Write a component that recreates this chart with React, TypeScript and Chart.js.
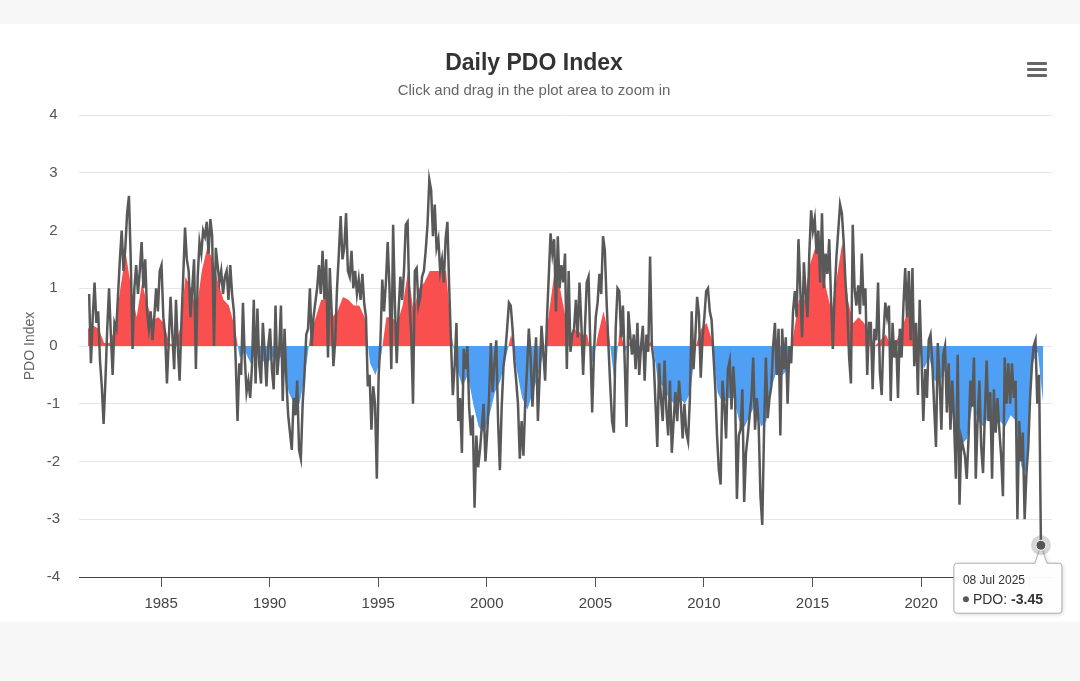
import React, { useEffect, useRef } from "react";
import { Chart, registerables } from "chart.js";

Chart.register(...registerables);

// ---------------- DATA ----------------
const LINE_START_YEAR = 1981;
const LINE_START_MONTH = 8; // 0-based, September

const LINE_1981_1989 = [
  0.9, -0.3, 0.5, 1.1,
  0.4, 0.6, -0.25, -0.7, -1.35, -0.6, 0.3, 1.0, 0.2, -0.5, 0.4, 0.3,
  0.9, 1.5, 2.0, 1.3, 1.7, 2.3, 2.6, 1.5, -0.05, 1.0, 1.4, 0.9,
  1.3, 1.8, 1.0, 1.5, 0.6, 0.3, 0.6, 0.1, 0.5, 1.0, 0.6, 1.3,
  1.4, 0.5, 0.2, -0.65, 0.1, 0.85, 0.2, -0.4, 0.8, 0.0, -0.6, 0.4,
  1.2, 2.05, 1.5, 1.3, 0.5, 1.0, 1.5, -0.4, 1.2, 1.8, 1.6, 2.0,
  1.9, 2.15, 1.6, 2.2, 1.9, 0.0, 1.7, 1.4, 1.1, 1.3, 0.9, 1.2,
  1.3, 0.8, 1.4, 0.9, 0.6, -0.25, -1.3, -0.3, -0.5, 0.75, -0.2, -0.8,
  -0.6, -0.9, -0.35, 0.8, -0.65, 0.65, -0.3, -0.65, 0.4, -0.1, -0.7, 0.0,
];
const LINE_1990_1999 = [
  0.3, -0.4, -0.75, 0.7, -0.5, -0.1, 0.7, -0.95, 0.3, -0.6, -1.2, -1.5,
  -1.8, -0.9, -1.2, -0.6, -1.8, -1.95, -1.0, -0.5, 0.2, 0.3, 1.0, 0.0,
  0.5, 0.75, 1.0, 1.4, 0.9, 1.65, 0.8, 1.5, -0.2, 1.35, 0.6, -0.35,
  0.1, 1.0, 1.6, 2.25, 1.5, 1.7, 2.3, 1.3, 1.2, 1.65, 1.0, 1.3,
  0.9, 1.15, 0.8, 1.25, 0.74, 0.5, -0.7, -0.5, -1.45, -0.7, -1.0, -2.3,
  -0.5, 0.1, 1.15, 0.6, 1.1, 1.8, 1.0, -0.4, 2.1, 0.7, -0.3, 0.6,
  1.2, 0.8, 1.3, 2.1, 2.15, 0.75, 0.2, -1.0, 1.3, 1.35, 0.7, 0.85,
  1.2, 1.3, 1.65, 2.1, 2.88, 2.7, 1.9, 2.45, 1.7, 1.85, 1.3, 1.5,
  1.1, 1.85, 2.15, 1.0, 0.05, -0.85, -0.35, 0.4, -1.3, -0.9, -1.85, -0.05,
  -0.4, 0.0, -1.05, -1.55, -1.2, -2.8, -1.55, -2.1, -1.8, -1.4, -1.0, -2.0,
];
const LINE_2000_2009 = [
  -1.5, -0.9, 0.05, -0.8, -0.3, 0.1, -1.3, -2.15, -1.05, -0.35, -0.1, 0.3,
  0.75, 0.7, 0.3, -0.25, -0.6, -1.0, -1.95, -1.3, -1.9, -1.0, -0.4, 0.3,
  -0.2, -1.05, -0.4, 0.15, -1.3, -0.5, 0.35, -0.1, -0.6, 0.45, 1.2, 1.95,
  1.6, 1.85, 0.6, 1.9, 1.0, 1.4, 1.1, 1.6, -0.4, 1.3, -0.1, 0.2,
  0.3, 0.8, 0.15, 1.1, 0.4, -0.5, 0.3, 1.1, 1.2, 0.0, -1.15, -0.1,
  0.5, 0.75, 1.25, 0.9, 1.9, 1.65, 0.75, 0.0, -0.7, -1.3, -1.5, 0.3,
  1.0, 0.95, 0.15, 0.7, -0.3, -1.4, 0.6, 0.2, -0.15, 0.2, -0.4, 0.4,
  -0.5, 0.0, 0.35, -0.6, 0.2, -0.1, 1.55, 0.0, -0.25, -1.0, -1.75, -0.3,
  -0.9, -1.3, -0.25, -1.1, -1.55, -0.6, -1.85, -1.3, -0.8, -1.3, -0.6, -1.0,
  -1.6, -1.0, -1.5, -1.65, -0.9, 0.6, -0.4, 0.15, 0.85, 0.55, -0.55, 0.15,
];
const LINE_2010_2019 = [
  0.5, 0.95, 1.0, 0.6, 0.45, -0.15, -0.7, -1.55, -2.15, -2.4, -0.6, -1.0,
  -1.6, -0.4, -0.25, -1.1, -0.35, -0.9, -2.65, -1.55, -1.45, -0.75, -2.7, -1.85,
  -1.55, -1.2, -0.9, -0.2, -1.45, -0.9, -1.35, -2.6, -3.1, -1.45, -0.2, -1.25,
  -0.9, -0.7, 0.0, 0.4, -0.5, 0.3, -1.55, 0.3, -0.4, 0.15, -1.0, 0.0,
  -0.3, 0.6, 0.95, 0.5, 1.85, 1.0, 0.15, 1.45, 0.9, 0.5, 1.6, 2.35,
  2.0, 2.2, 1.6, 2.0, 1.1, 2.3, 1.0, 1.6, 1.25, 1.85, 0.8, -0.05,
  0.9, 1.55, 2.0, 2.45, 2.3, 1.8, 1.1, 0.65, -0.2, -0.65, 2.1, 1.0,
  0.7, 1.05, 0.55, 1.6, 0.7, 1.0, -0.5, 0.4, 0.4, -0.75, 0.3, 0.1,
  1.1, -0.45, -0.85, 0.2, 0.75, 0.5, 0.7, -0.95, 0.4, -0.2, 0.1, -0.9,
  0.3, -0.2, 0.7, 1.35, 0.5, 1.3, 0.1, 1.35, -0.35, 0.4, -0.85, 0.8,
];
const LINE_2020_2025 = [
  -0.2, -1.3, -0.4, -0.9, 0.1, 0.2, -0.3, -1.05, -1.75, 0.05, -0.6, -1.45,
  -0.15, 0.0, -1.15, -0.3, -1.45, -0.6, -1.3, -2.3, -0.15, -2.75, -1.6, -1.75,
  -1.9, -2.3, -1.6, -0.6, -1.05, -0.2, -2.3, -1.3, -0.6, -1.75, -2.2, -1.2,
  -0.25, -1.3, -0.8, -2.3, -0.75, -1.5, -0.9, -1.45, -1.9, -2.6, -0.2, -1.0,
  -0.3, -1.0, -0.3, -0.9, -0.6, -3.0, -1.3, -2.0, -1.5, -3.0, -2.2, -1.75,
  -0.9, -0.35, 0.0, 0.1, -1.0, -0.5, -3.45,
];

// Smoothed PDO (red/blue area), quarterly, starting Q3 1981
const FILL_START_YEAR = 1981;
const FILL_START_QUARTER = 2; // 0-based, Q3

const FILL_1981_1989 = [
  0.3, 0.35,
  0.3, 0.05, 0.05, 0.3,
  1.0, 1.6, 1.0, 0.5,
  1.1, 0.7, 0.45, 0.5,
  0.4, 0.05, 0.0, 0.3,
  1.2, 1.0, 0.6, 1.3,
  1.7, 1.5, 1.1, 0.8,
  0.7, 0.35, -0.2, -0.1,
  -0.3, -0.1, -0.25, -0.3,
];
const FILL_1990_1999 = [
  -0.2, -0.1, -0.3, -0.8,
  -1.0, -1.0, -0.5, 0.2,
  0.5, 0.8, 0.8, 0.5,
  0.6, 0.85, 0.8, 0.7,
  0.7, 0.5, -0.3, -0.5,
  -0.2, 0.5, 0.5, 0.4,
  0.7, 1.3, 0.6, 1.0,
  1.1, 1.3, 1.3, 1.3,
  1.3, 0.2, -0.4, -0.7,
  -0.5, -1.0, -1.4, -1.5,
];
const FILL_2000_2009 = [
  -1.2, -0.8, -0.6, -0.2,
  0.2, -0.4, -0.9, -1.1,
  -0.8, -0.5, -0.1, 0.6,
  1.3, 1.0, 0.5, 0.2,
  0.3, 0.2, 0.2, -0.3,
  0.2, 0.6, 0.2, -0.6,
  0.3, -0.1, 0.1, -0.1,
  -0.1, 0.0, 0.1, -0.6,
  -0.7, -0.9, -1.0, -0.9,
  -1.0, -0.8, 0.0, 0.3,
];
const FILL_2010_2019 = [
  0.4, 0.1, -0.8, -1.0,
  -0.9, -0.9, -1.3, -1.4,
  -1.2, -1.0, -1.4, -1.3,
  -0.7, -0.4, -0.5, -0.4,
  0.2, 0.8, 0.8, 1.4,
  1.7, 1.6, 1.0, 0.6,
  1.2, 1.8, 0.8, 0.4,
  0.5, 0.4, 0.2, 0.0,
  0.1, 0.2, 0.0, 0.1,
  0.3, 0.6, 0.5, 0.0,
];
const FILL_2020_2025 = [
  -0.4, -0.2, -0.6, -0.6,
  -0.4, -0.8, -1.5, -1.7,
  -1.6, -1.0, -1.3, -1.4,
  -1.2, -1.4, -1.3, -1.4,
  -1.2, -1.3, -2.1, -2.2,
  -0.3, -0.1, -1.0,
];

const X_TICKS = [1985, 1990, 1995, 2000, 2005, 2010, 2015, 2020, 2025];
const Y_MIN = -4;
const Y_MAX = 4;
const X_MIN = 1981.22;
const X_MAX = 2026.03;

const TITLE = "Daily PDO Index";
const SUBTITLE = "Click and drag in the plot area to zoom in";
const Y_TITLE = "PDO Index";
const SERIES_NAME = "PDO";
const TOOLTIP_DATE = "08 Jul 2025";

// ---------------- STYLE ----------------
const FONT = '"Liberation Sans", Arial, Helvetica, sans-serif';
const LINE_COLOR = "#595959";
const RED = "#fa4f4f";
const BLUE = "#4fa0f5";

const tooltipPlugin = {
  id: "pdoTooltip",
  afterDraw(chart: any) {
    const meta = chart.getDatasetMeta(0);
    const el = meta.data[meta.data.length - 1];
    if (!el) return;
    const px = el.x;
    const py = el.y;
    const ctx = chart.ctx as CanvasRenderingContext2D;
    const values = chart.data.datasets[0].data;
    const last = values[values.length - 1].y as number;

    ctx.save();
    const w = 108;
    const h = 50;
    const left = px - 87;
    const top = py + 18;
    const r = 3;
    ctx.shadowColor = "rgba(0,0,0,0.18)";
    ctx.shadowBlur = 4;
    ctx.shadowOffsetX = 1;
    ctx.shadowOffsetY = 1;
    ctx.beginPath();
    ctx.moveTo(left + r, top);
    ctx.lineTo(px - 6, top);
    ctx.lineTo(px, py);
    ctx.lineTo(px + 6, top);
    ctx.lineTo(left + w - r, top);
    ctx.quadraticCurveTo(left + w, top, left + w, top + r);
    ctx.lineTo(left + w, top + h - r);
    ctx.quadraticCurveTo(left + w, top + h, left + w - r, top + h);
    ctx.lineTo(left + r, top + h);
    ctx.quadraticCurveTo(left, top + h, left, top + h - r);
    ctx.lineTo(left, top + r);
    ctx.quadraticCurveTo(left, top, left + r, top);
    ctx.closePath();
    ctx.fillStyle = "rgba(255,255,255,0.96)";
    ctx.fill();
    ctx.shadowColor = "transparent";
    ctx.lineWidth = 1;
    ctx.strokeStyle = "#b0b0b0";
    ctx.stroke();

    ctx.textBaseline = "alphabetic";
    ctx.textAlign = "left";
    ctx.fillStyle = "#333";
    ctx.font = `12px ${FONT}`;
    ctx.fillText(TOOLTIP_DATE, left + 9, top + 21);
    ctx.beginPath();
    ctx.arc(left + 12, top + 36, 3, 0, Math.PI * 2);
    ctx.fillStyle = LINE_COLOR;
    ctx.fill();
    ctx.fillStyle = "#333";
    ctx.font = `14px ${FONT}`;
    const lbl = `${SERIES_NAME}: `;
    ctx.fillText(lbl, left + 19, top + 41);
    const lw = ctx.measureText(lbl).width;
    ctx.font = `bold 14px ${FONT}`;
    ctx.fillText(last.toFixed(2), left + 19 + lw, top + 41);

    ctx.beginPath();
    ctx.arc(px, py, 10, 0, Math.PI * 2);
    ctx.fillStyle = "rgba(90,90,90,0.25)";
    ctx.fill();
    ctx.beginPath();
    ctx.arc(px, py, 5, 0, Math.PI * 2);
    ctx.fillStyle = "#555";
    ctx.fill();
    ctx.lineWidth = 1;
    ctx.strokeStyle = "#fff";
    ctx.stroke();
    ctx.restore();
  },
};

export default function App() {
  const ref = useRef<HTMLCanvasElement | null>(null);

  useEffect(() => {
    if (!ref.current) return;
    const lineValues = [
      ...LINE_1981_1989,
      ...LINE_1990_1999,
      ...LINE_2000_2009,
      ...LINE_2010_2019,
      ...LINE_2020_2025,
    ];
    const linePts = lineValues.map((v, i) => ({
      x: LINE_START_YEAR + (LINE_START_MONTH + i) / 12 + 0.02,
      y: v,
    }));
    const fillValues = [
      ...FILL_1981_1989,
      ...FILL_1990_1999,
      ...FILL_2000_2009,
      ...FILL_2010_2019,
      ...FILL_2020_2025,
    ];
    const fillPts = fillValues.map((v, i) => ({
      x: FILL_START_YEAR + (FILL_START_QUARTER + i + 0.5) / 4,
      y: v,
    }));

    const chart = new Chart(ref.current, {
      type: "line",
      data: {
        datasets: [
          {
            label: SERIES_NAME,
            data: linePts,
            borderColor: LINE_COLOR,
            borderWidth: 2.5,
            pointRadius: 0,
            fill: false,
            tension: 0,
            order: 0,
          },
          {
            label: "smoothed",
            data: fillPts,
            borderWidth: 0,
            borderColor: "rgba(0,0,0,0)",
            backgroundColor: RED,
            pointRadius: 0,
            tension: 0,
            fill: { target: "origin", above: RED, below: BLUE },
            order: 1,
          },
        ],
      },
      options: {
        responsive: false,
        animation: false,
        devicePixelRatio: 1,
        events: [],
        layout: { padding: { top: 115, right: 28, bottom: 0, left: 0 } },
        plugins: {
          legend: { display: false },
          tooltip: { enabled: false },
          title: { display: false },
        },
        scales: {
          x: {
            type: "linear",
            min: X_MIN,
            max: X_MAX,
            afterBuildTicks: (s: any) => {
              s.ticks = X_TICKS.map((v) => ({ value: v }));
            },
            afterFit: (s: any) => {
              s.height = 104;
            },
            grid: {
              drawOnChartArea: false,
              drawTicks: true,
              tickLength: 10,
              color: "#555",
            },
            border: { display: true, color: "#444", width: 1 },
            ticks: {
              autoSkip: false,
              maxRotation: 0,
              padding: 8,
              color: "#444",
              font: { family: FONT, size: 15 },
              callback: (v: any) => String(v),
            },
          },
          y: {
            min: Y_MIN,
            max: Y_MAX,
            afterFit: (s: any) => {
              s.width = 79;
            },
            grid: {
              drawTicks: false,
              color: (c: any) =>
                c.tick && c.tick.value === Y_MIN ? "rgba(0,0,0,0)" : "#e6e6e6",
            },
            border: { display: false },
            ticks: {
              stepSize: 1,
              padding: 19,
              crossAlign: "center",
              color: "#555",
              font: { family: FONT, size: 15 },
            },
            title: {
              display: true,
              text: Y_TITLE,
              color: "#666",
              font: { family: FONT, size: 14 },
              padding: { top: 22, bottom: 0 },
            },
          },
        },
      },
      plugins: [tooltipPlugin],
    });
    return () => chart.destroy();
  }, []);

  return (
    <div
      style={{
        position: "fixed",
        left: 0,
        top: 0,
        width: 1080,
        height: 681,
        background: "#f7f7f7",
        overflow: "hidden",
        fontFamily: FONT,
      }}
    >
      <div
        style={{
          position: "absolute",
          left: 0,
          top: 24,
          width: 1080,
          height: 598,
          background: "#ffffff",
        }}
      />
      <canvas
        ref={ref}
        width={1080}
        height={681}
        style={{ position: "absolute", left: 0, top: 0, width: 1080, height: 681 }}
      />
      <div
        style={{
          position: "absolute",
          left: 0,
          top: 48,
          width: 1068,
          textAlign: "center",
          fontSize: 23,
          lineHeight: "28px",
          fontWeight: "bold",
          color: "#333",
        }}
      >
        {TITLE}
      </div>
      <div
        style={{
          position: "absolute",
          left: 0,
          top: 81,
          width: 1068,
          textAlign: "center",
          fontSize: 15,
          lineHeight: "18px",
          color: "#666",
        }}
      >
        {SUBTITLE}
      </div>
      <div style={{ position: "absolute", left: 1027, top: 62, width: 20 }}>
        {[0, 1, 2].map((i) => (
          <div
            key={i}
            style={{
              width: 20,
              height: 3,
              background: "#666",
              marginBottom: 3,
              borderRadius: 1,
            }}
          />
        ))}
      </div>
    </div>
  );
}
